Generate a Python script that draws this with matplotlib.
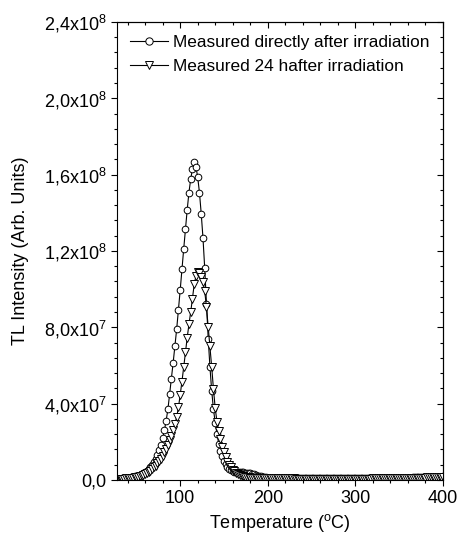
import matplotlib
matplotlib.use('Agg')
import matplotlib.pyplot as plt
import numpy as np
from matplotlib.ticker import MultipleLocator, NullFormatter

plt.rcParams['font.family'] = ['Liberation Sans', 'DejaVu Sans']
plt.rcParams['mathtext.default'] = 'regular'

# temperature grid (°C), one reading every 2 degrees
temperature = np.arange(32, 401, 2)

# TL intensity in units of 1e8
direct = np.array([
    0.006, 0.008, 0.009, 0.010, 0.011, 0.012, 0.014, 0.016, 0.018, 0.020,
    0.022, 0.026, 0.030, 0.035, 0.040, 0.047, 0.056, 0.067, 0.080, 0.094,
    0.112, 0.133, 0.155, 0.185, 0.218, 0.260, 0.311, 0.370, 0.450, 0.530,
    0.615, 0.700, 0.790, 0.891, 0.994, 1.104, 1.209, 1.314, 1.415, 1.506,
    1.576, 1.630, 1.668, 1.642, 1.586, 1.506, 1.396, 1.270, 1.110, 0.920,
    0.740, 0.590, 0.465, 0.370, 0.300, 0.240, 0.190, 0.153, 0.125, 0.100,
    0.082, 0.068, 0.057, 0.050, 0.045, 0.043, 0.042, 0.041, 0.040, 0.040,
    0.039, 0.038, 0.037, 0.036, 0.034, 0.032, 0.029, 0.026, 0.023, 0.020,
    0.018, 0.016, 0.014, 0.013, 0.012, 0.011, 0.011, 0.010, 0.010, 0.010,
    0.010, 0.010, 0.009, 0.009, 0.009, 0.009, 0.009, 0.009, 0.009, 0.009,
    0.009, 0.009, 0.009, 0.009, 0.009, 0.009, 0.009, 0.009, 0.009, 0.009,
    0.009, 0.009, 0.009, 0.009, 0.009, 0.009, 0.009, 0.009, 0.009, 0.009,
    0.009, 0.009, 0.009, 0.009, 0.009, 0.009, 0.009, 0.009, 0.009, 0.009,
    0.009, 0.009, 0.009, 0.009, 0.009, 0.009, 0.009, 0.009, 0.009, 0.009,
    0.009, 0.009, 0.009, 0.009, 0.009, 0.010, 0.010, 0.010, 0.010, 0.010,
    0.010, 0.010, 0.010, 0.010, 0.010, 0.011, 0.011, 0.011, 0.011, 0.011,
    0.011, 0.011, 0.011, 0.012, 0.012, 0.012, 0.012, 0.013, 0.013, 0.013,
    0.013, 0.014, 0.014, 0.014, 0.014, 0.015, 0.015, 0.015, 0.015, 0.016,
    0.016, 0.016, 0.017, 0.017, 0.018,
])

after_24h = np.array([
    0.005, 0.006, 0.007, 0.008, 0.009, 0.010, 0.011, 0.012, 0.013, 0.015,
    0.017, 0.019, 0.022, 0.026, 0.030, 0.035, 0.041, 0.048, 0.056, 0.065,
    0.075, 0.086, 0.098, 0.112, 0.127, 0.144, 0.163, 0.184, 0.207, 0.232,
    0.260, 0.292, 0.330, 0.380, 0.445, 0.515, 0.590, 0.670, 0.745, 0.815,
    0.880, 0.950, 1.025, 1.068, 1.087, 1.083, 1.065, 1.035, 0.990, 0.905,
    0.800, 0.700, 0.590, 0.475, 0.375, 0.305, 0.255, 0.212, 0.175, 0.145,
    0.118, 0.096, 0.079, 0.065, 0.054, 0.045, 0.038, 0.032, 0.027, 0.023,
    0.020, 0.017, 0.015, 0.013, 0.012, 0.011, 0.010, 0.010, 0.009, 0.009,
    0.008, 0.008, 0.008, 0.008, 0.008, 0.008, 0.008, 0.008, 0.008, 0.008,
    0.008, 0.008, 0.008, 0.008, 0.008, 0.008, 0.008, 0.008, 0.008, 0.008,
    0.007, 0.007, 0.007, 0.007, 0.007, 0.007, 0.007, 0.007, 0.007, 0.007,
    0.007, 0.007, 0.007, 0.007, 0.007, 0.007, 0.007, 0.007, 0.007, 0.007,
    0.007, 0.007, 0.007, 0.007, 0.007, 0.007, 0.007, 0.007, 0.007, 0.007,
    0.007, 0.007, 0.007, 0.007, 0.007, 0.007, 0.007, 0.007, 0.007, 0.007,
    0.007, 0.007, 0.007, 0.007, 0.008, 0.008, 0.008, 0.008, 0.008, 0.008,
    0.008, 0.008, 0.008, 0.008, 0.008, 0.009, 0.009, 0.009, 0.009, 0.009,
    0.009, 0.009, 0.009, 0.010, 0.010, 0.010, 0.010, 0.011, 0.011, 0.011,
    0.011, 0.012, 0.012, 0.012, 0.012, 0.013, 0.013, 0.013, 0.013, 0.014,
    0.014, 0.014, 0.015, 0.015, 0.016,
])

ytick_vals = [0, 4e7, 8e7, 1.2e8, 1.6e8, 2.0e8, 2.4e8]
ytick_labels = ['0,0', '4,0x10$^7$', '8,0x10$^7$', '1,2x10$^8$',
                '1,6x10$^8$', '2,0x10$^8$', '2,4x10$^8$']
xtick_vals = [100, 200, 300, 400]

fig = plt.figure(figsize=(4.61, 5.35), dpi=100)
ax = fig.add_axes([0.254, 0.103, 0.707, 0.856])

ax.plot(temperature, direct * 1e8, '-o', color='black', lw=0.8,
        ms=4.8, mfc='white', mec='black', mew=0.7,
        label='Measured directly after irradiation')
ax.plot(temperature, after_24h * 1e8, '-v', color='black', lw=0.8,
        ms=5.3, mfc='white', mec='black', mew=0.7,
        label='Measured 24 hafter irradiation')

ax.set_xlim(28, 400)
ax.set_ylim(0, 2.4e8)
ax.set_xticks(xtick_vals)
ax.set_yticks(ytick_vals)
ax.set_yticklabels(ytick_labels)
ax.xaxis.set_minor_locator(MultipleLocator(20))
ax.yaxis.set_minor_locator(MultipleLocator(8e6))
ax.tick_params(which='both', direction='out', labelsize=13, width=0.8)
ax.tick_params(which='major', length=4.5, pad=3)
ax.tick_params(which='minor', length=2.5)
for s in ax.spines.values():
    s.set_linewidth(0.8)

# mirrored ticks on top and right, pointing inward
top = ax.secondary_xaxis('top')
top.set_xticks(xtick_vals)
top.xaxis.set_minor_locator(MultipleLocator(20))
top.xaxis.set_major_formatter(NullFormatter())
top.tick_params(which='both', direction='in', width=0.8)
top.tick_params(which='major', length=4.5)
top.tick_params(which='minor', length=2.5)
right = ax.secondary_yaxis('right')
right.set_yticks(ytick_vals)
right.yaxis.set_minor_locator(MultipleLocator(8e6))
right.yaxis.set_major_formatter(NullFormatter())
right.tick_params(which='both', direction='in', width=0.8)
right.tick_params(which='major', length=4.5)
right.tick_params(which='minor', length=2.5)

ax.set_xlabel('Temperature ($^{o}$C)', fontsize=13)
ax.set_ylabel('TL Intensity (Arb. Units)', fontsize=13)
ax.xaxis.set_label_coords(0.5, -0.07)
ax.yaxis.set_label_coords(-0.27, 0.5)

ax.legend(loc='upper left', bbox_to_anchor=(0.0, 1.0), frameon=False,
          fontsize=12.4, handlelength=2.2, handletextpad=0.3,
          labelspacing=0.5, borderaxespad=0.45, borderpad=0.3,
          markerscale=1.1)

fig.savefig('out.png', dpi=100)
